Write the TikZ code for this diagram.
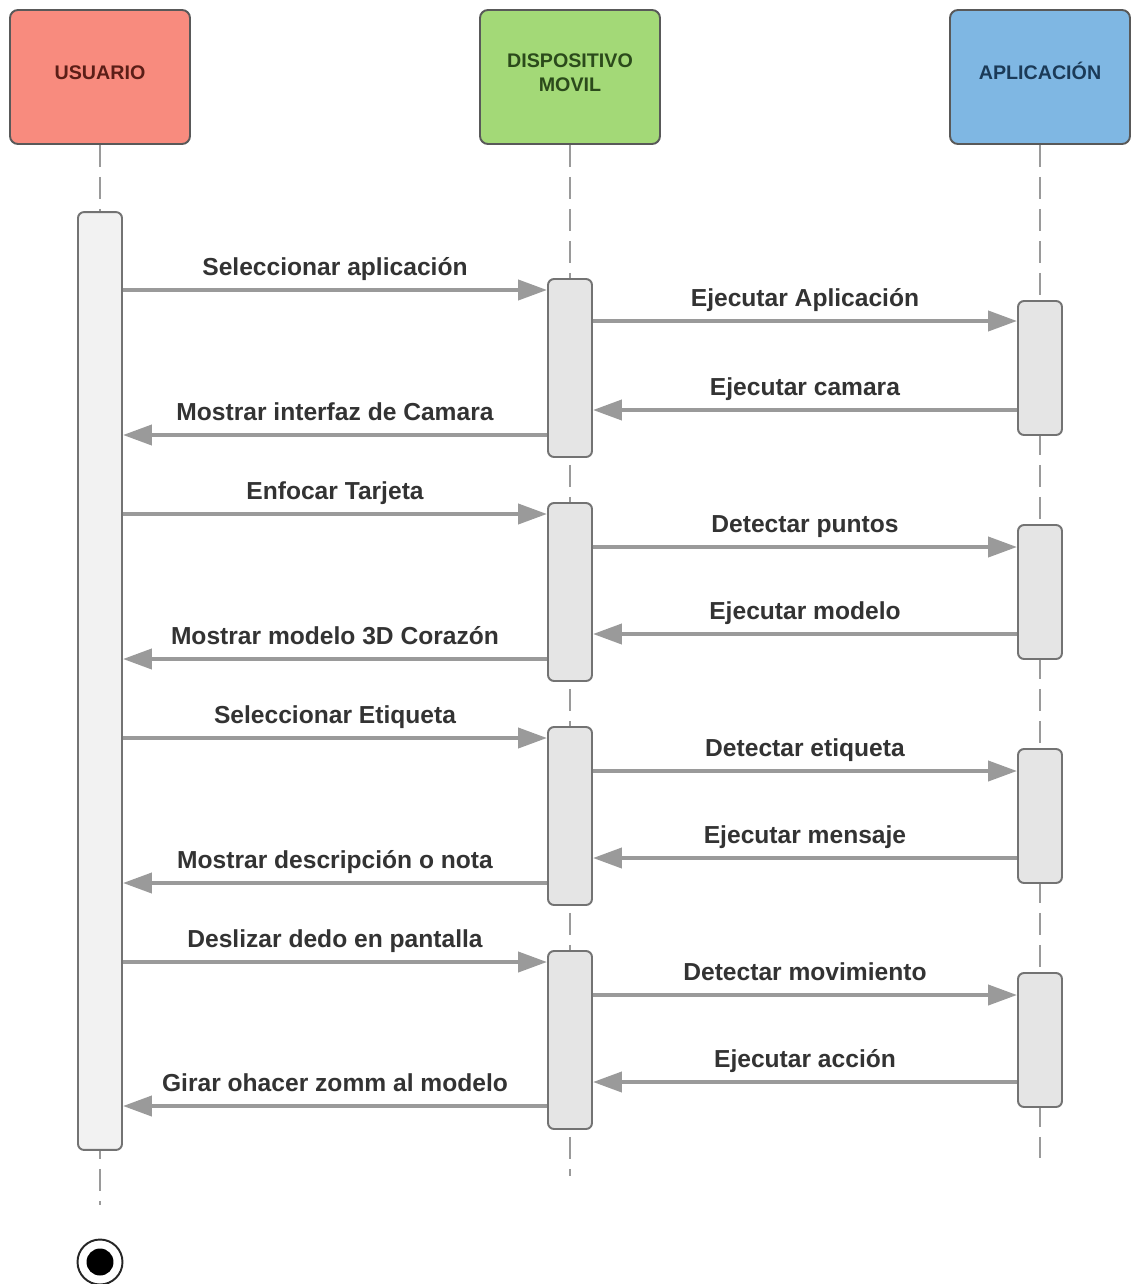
\documentclass[tikz,border=0pt]{standalone}
\usepackage{fontspec}
\setmainfont{Liberation Sans}
\usetikzlibrary{arrows.meta}

\definecolor{usrfill}{HTML}{F88B7E}
\definecolor{usrtext}{HTML}{5B1E17}
\definecolor{devfill}{HTML}{A3D977}
\definecolor{devtext}{HTML}{2B4A1B}
\definecolor{appfill}{HTML}{7FB7E3}
\definecolor{apptext}{HTML}{1B3A57}
\definecolor{msggray}{HTML}{9A9A9A}
\definecolor{labeltext}{HTML}{333333}

\begin{document}
\begin{tikzpicture}[
        x=0.02cm, y=-0.02cm,
        actor/.style={draw=black!65, line width=1.1pt, rectangle, rounded corners=4.5pt, minimum width=3.6cm, minimum height=2.68cm, align=center, font=\fontsize{11.2}{13.6}\selectfont\bfseries},
        activ/.style={draw=black!55, fill=black!10, line width=1.1pt, rectangle, rounded corners=3.4pt, minimum width=0.88cm, inner sep=0pt},
        lifeline/.style={draw=msggray, line width=1.1pt, dash pattern=on 0.44cm off 0.2cm},
        msg/.style={draw=msggray, line width=2.3pt, -{Triangle[length=0.58cm, width=0.4cm]}},
        lbl/.style={midway, anchor=base, yshift=0.3cm, text=labeltext, font=\fontsize{14}{16}\selectfont\bfseries}
    ]
    \useasboundingbox (0,0) rectangle (1131,1284);

    % participants
    \node[actor, fill=usrfill, text=usrtext, text height=0.7em, text depth=0.4em] (usuario) at (100,77) {USUARIO};
    \node[actor, fill=devfill, text=devtext, text depth=4.6pt] (movil) at (570,77) {DISPOSITIVO\\MOVIL};
    \node[actor, fill=appfill, text=apptext, text height=0.7em, text depth=0.4em] (app) at (1040,77) {APLICACIÓN};

    % lifelines
    \coordinate (uend) at (100,1205);
    \coordinate (mend) at (570,1176);
    \coordinate (aend) at (1040,1158);
    \draw[lifeline] (usuario.south) -- (uend);
    \draw[lifeline] (movil.south) -- (mend);
    \draw[lifeline] (app.south) -- (aend);

    % activations
    \node[activ, fill=black!5, minimum height=18.76cm] (au) at (100,681) {};

    \node[activ, minimum height=3.56cm] (m1) at (570,368) {};
    \node[activ, minimum height=3.56cm] (m2) at (570,592) {};
    \node[activ, minimum height=3.56cm] (m3) at (570,816) {};
    \node[activ, minimum height=3.56cm] (m4) at (570,1040) {};

    \node[activ, minimum height=2.68cm] (a1) at (1040,368) {};
    \node[activ, minimum height=2.68cm] (a2) at (1040,592) {};
    \node[activ, minimum height=2.68cm] (a3) at (1040,816) {};
    \node[activ, minimum height=2.68cm] (a4) at (1040,1040) {};

    % first block
    \draw[msg] (au.east |- 0,290) -- (m1.west |- 0,290) node[lbl] {Seleccionar aplicación};
    \draw[msg] (m1.east |- 0,321) -- (a1.west |- 0,321) node[lbl] {Ejecutar Aplicación};
    \draw[msg] (a1.west |- 0,410) -- (m1.east |- 0,410) node[lbl] {Ejecutar camara};
    \draw[msg] (m1.west |- 0,435) -- (au.east |- 0,435) node[lbl] {Mostrar interfaz de Camara};

    % second block
    \draw[msg] (au.east |- 0,514) -- (m2.west |- 0,514) node[lbl] {Enfocar Tarjeta};
    \draw[msg] (m2.east |- 0,547) -- (a2.west |- 0,547) node[lbl] {Detectar puntos};
    \draw[msg] (a2.west |- 0,634) -- (m2.east |- 0,634) node[lbl] {Ejecutar modelo};
    \draw[msg] (m2.west |- 0,659) -- (au.east |- 0,659) node[lbl] {Mostrar modelo 3D Corazón};

    % third block
    \draw[msg] (au.east |- 0,738) -- (m3.west |- 0,738) node[lbl] {Seleccionar Etiqueta};
    \draw[msg] (m3.east |- 0,771) -- (a3.west |- 0,771) node[lbl] {Detectar etiqueta};
    \draw[msg] (a3.west |- 0,858) -- (m3.east |- 0,858) node[lbl] {Ejecutar mensaje};
    \draw[msg] (m3.west |- 0,883) -- (au.east |- 0,883) node[lbl] {Mostrar descripción o nota};

    % fourth block
    \draw[msg] (au.east |- 0,962) -- (m4.west |- 0,962) node[lbl] {Deslizar dedo en pantalla};
    \draw[msg] (m4.east |- 0,995) -- (a4.west |- 0,995) node[lbl] {Detectar movimiento};
    \draw[msg] (a4.west |- 0,1082) -- (m4.east |- 0,1082) node[lbl] {Ejecutar acción};
    \draw[msg] (m4.west |- 0,1106) -- (au.east |- 0,1106) node[lbl] {Girar ohacer zomm al modelo};

    % end
    \node[circle, draw=black!85, line width=1.1pt, minimum size=0.9cm, inner sep=0pt] (fin) at (100,1262) {};
    \node[circle, fill=black, minimum size=0.54cm, inner sep=0pt] (finin) at (fin) {};

\end{tikzpicture}
\end{document}
